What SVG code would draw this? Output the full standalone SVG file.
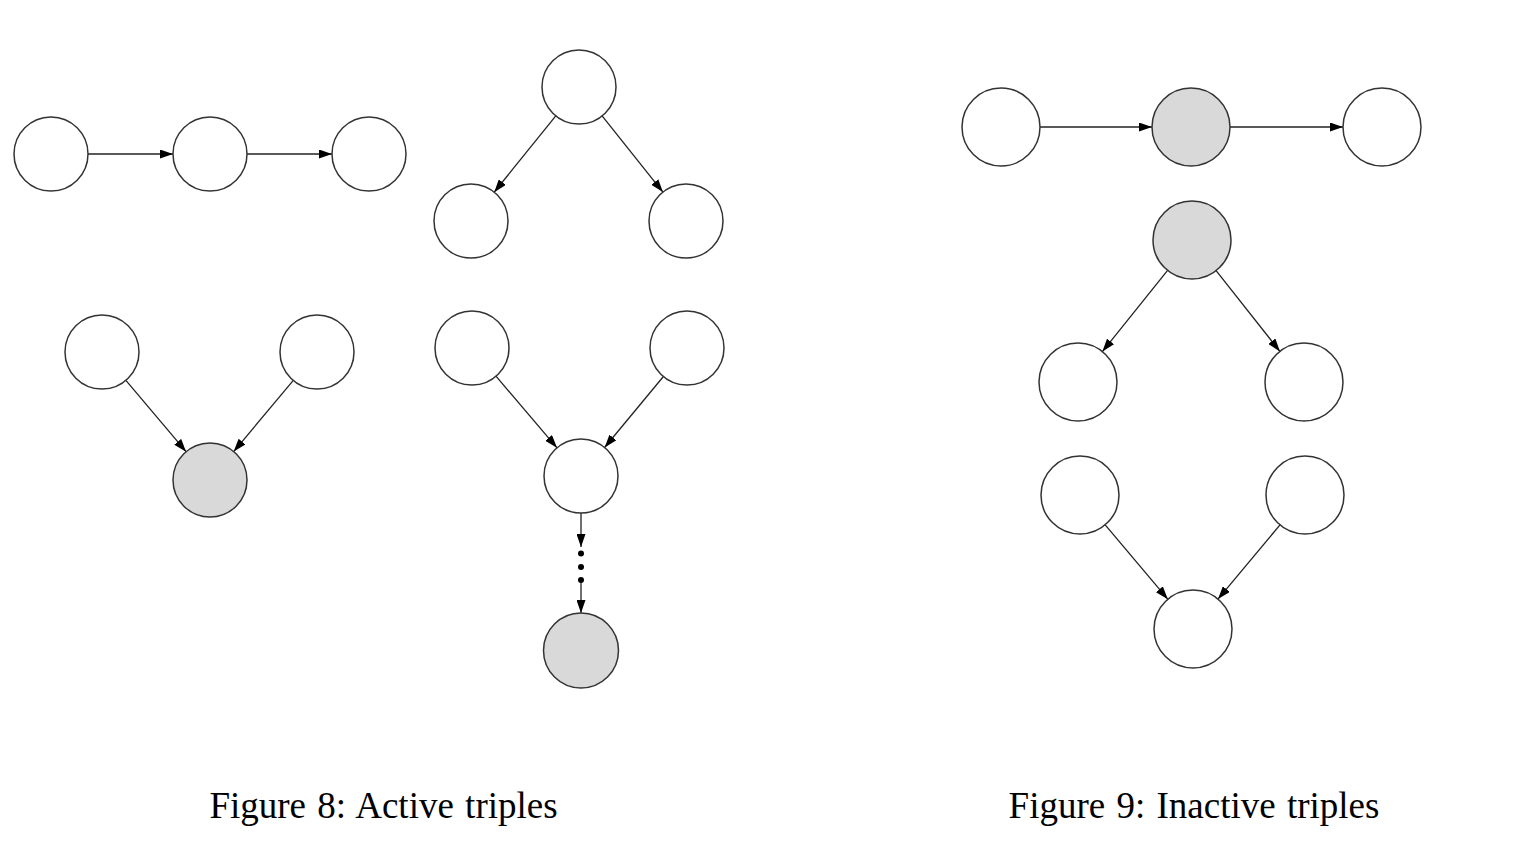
<svg xmlns="http://www.w3.org/2000/svg" width="1524" height="850" viewBox="0 0 1524 850">
<style>
.n{fill:#ffffff;stroke:#333333;stroke-width:1.5}
.g{fill:#d9d9d9;stroke:#333333;stroke-width:1.5}
.e{stroke:#222222;stroke-width:1.3;fill:none;marker-end:url(#ah)}
.cap{font-family:"Liberation Serif","Times New Roman",serif;font-size:37px;fill:#000;text-anchor:middle;word-spacing:2px}
</style>
<defs>
<marker id="ah" markerUnits="userSpaceOnUse" markerWidth="13" markerHeight="9" refX="13" refY="4.5" orient="auto">
<path d="M0,0 L13,4.5 L0,9 z" fill="#000"/>
</marker>
</defs>
<rect width="1524" height="850" fill="#ffffff"/>
<g id="connectors">
<line class="e" x1="88" y1="154" x2="173" y2="154"/>
<line class="e" x1="247" y1="154" x2="332" y2="154"/>
<line class="e" x1="555.8" y1="115.8" x2="494.2" y2="192.2"/>
<line class="e" x1="602.1" y1="115.9" x2="662.9" y2="192.1"/>
<line class="e" x1="125.9" y1="380.3" x2="186.1" y2="451.7"/>
<line class="e" x1="293.3" y1="380.4" x2="233.7" y2="451.6"/>
<line class="e" x1="496" y1="376.2" x2="557" y2="447.8"/>
<line class="e" x1="663.4" y1="376.5" x2="604.6" y2="447.5"/>
<line class="e" x1="581" y1="513" x2="581" y2="547"/>
<circle cx="581" cy="553.5" r="3" fill="#000"/>
<circle cx="581" cy="567" r="3" fill="#000"/>
<circle cx="581" cy="580" r="3" fill="#000"/>
<line class="e" x1="581" y1="583" x2="581" y2="613"/>
<line class="e" x1="1040" y1="127" x2="1152" y2="127"/>
<line class="e" x1="1230" y1="127" x2="1343" y2="127"/>
<line class="e" x1="1167.6" y1="270.4" x2="1102.4" y2="351.6"/>
<line class="e" x1="1216.1" y1="270.6" x2="1279.9" y2="351.4"/>
<line class="e" x1="1105.2" y1="524.8" x2="1167.8" y2="599.2"/>
<line class="e" x1="1280" y1="524.9" x2="1218" y2="599.1"/>
</g>
<g id="f8-chain-a"><circle class="n" cx="51" cy="154" r="37"/></g>
<g id="f8-chain-b"><circle class="n" cx="210" cy="154" r="37"/></g>
<g id="f8-chain-c"><circle class="n" cx="369" cy="154" r="37"/></g>
<g id="f8-fork-top"><circle class="n" cx="579" cy="87" r="37"/></g>
<g id="f8-fork-left"><circle class="n" cx="471" cy="221" r="37"/></g>
<g id="f8-fork-right"><circle class="n" cx="686" cy="221" r="37"/></g>
<g id="f8-col-left"><circle class="n" cx="102" cy="352" r="37"/></g>
<g id="f8-col-right"><circle class="n" cx="317" cy="352" r="37"/></g>
<g id="f8-col-child"><circle class="g" cx="210" cy="480" r="37"/></g>
<g id="f8-col2-left"><circle class="n" cx="472" cy="348" r="37"/></g>
<g id="f8-col2-right"><circle class="n" cx="687" cy="348" r="37"/></g>
<g id="f8-col2-child"><circle class="n" cx="581" cy="476" r="37"/></g>
<g id="f8-col2-desc"><circle class="g" cx="581" cy="650.5" r="37.5"/></g>
<g id="f9-chain-a"><circle class="n" cx="1001" cy="127" r="39"/></g>
<g id="f9-chain-b"><circle class="g" cx="1191" cy="127" r="39"/></g>
<g id="f9-chain-c"><circle class="n" cx="1382" cy="127" r="39"/></g>
<g id="f9-fork-top"><circle class="g" cx="1192" cy="240" r="39"/></g>
<g id="f9-fork-left"><circle class="n" cx="1078" cy="382" r="39"/></g>
<g id="f9-fork-right"><circle class="n" cx="1304" cy="382" r="39"/></g>
<g id="f9-col-left"><circle class="n" cx="1080" cy="495" r="39"/></g>
<g id="f9-col-right"><circle class="n" cx="1305" cy="495" r="39"/></g>
<g id="f9-col-child"><circle class="n" cx="1193" cy="629" r="39"/></g>
<g id="captions">
<text class="cap" x="383.5" y="818">Figure 8: Active triples</text>
<text class="cap" x="1194" y="818">Figure 9: Inactive triples</text>
</g>
</svg>
